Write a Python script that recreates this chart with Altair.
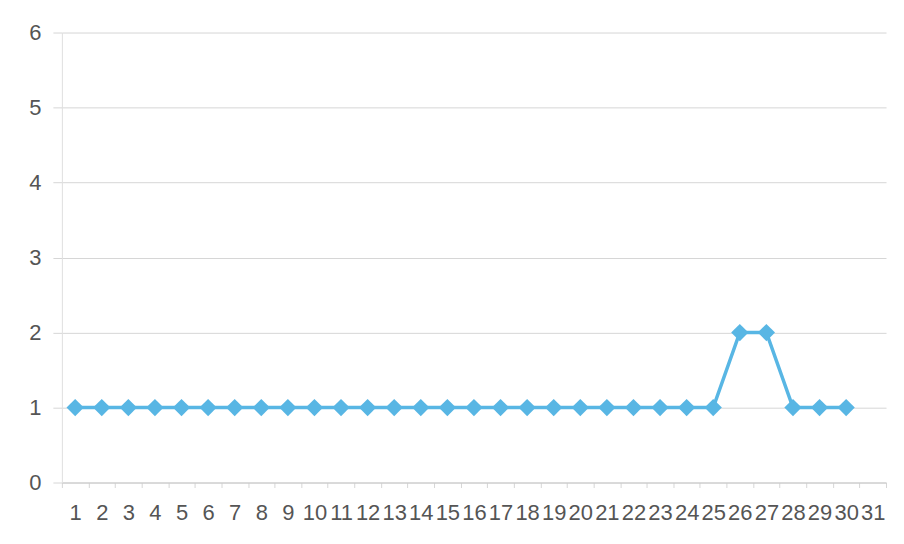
import altair as alt
import pandas as pd

days = [str(d) for d in range(1, 32)]
values = [1]*25 + [2, 2] + [1, 1, 1] + [None]

df = pd.DataFrame({"day": days, "value": values})
df_pts = df.dropna()

line_color = "#58B6E4"
grid_color = "#d6d6d6"
text_color = "#555555"
font = "Liberation Sans"

x = alt.X("day:O", scale=alt.Scale(domain=days, paddingInner=0, paddingOuter=0),
          axis=alt.Axis(title=None, labelAngle=0, labelOverlap=False, tickBand="extent",
                        labelFontSize=22, labelColor=text_color, labelFont=font,
                        labelPadding=15, tickSize=5, tickColor=grid_color,
                        domainColor="#c8c8c8", grid=False))
y = alt.Y("value:Q", scale=alt.Scale(domain=[0, 6], nice=False),
          axis=alt.Axis(title=None, values=[0, 1, 2, 3, 4, 5, 6], labelFontSize=22,
                        labelColor=text_color, labelFont=font, labelPadding=12,
                        tickSize=9, tickColor=grid_color, gridColor=grid_color,
                        domainColor="#e0e0e0"))

line = alt.Chart(df_pts).mark_line(color=line_color, strokeWidth=3.5).encode(x=x, y=y)
pts = alt.Chart(df_pts).mark_point(shape="diamond", filled=True, size=300,
                                   color=line_color, opacity=1).encode(x=x, y=y)

chart = alt.layer(line, pts).properties(
    width=826, height=451,
    padding={"left": 54, "top": 24, "right": 10, "bottom": 50},
    autosize=alt.AutoSizeParams(type="none"),
    background="white",
).configure_view(stroke=None)

chart.save("out.html", embed_options={"renderer": "svg", "actions": False})
